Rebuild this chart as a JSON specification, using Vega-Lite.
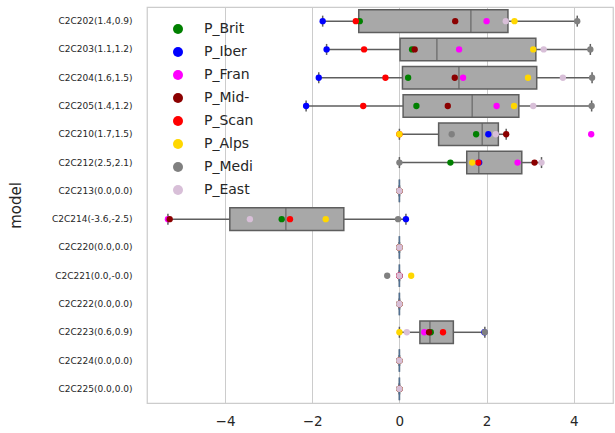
{
  "$schema": "https://vega.github.io/schema/vega-lite/v6.json",
  "width": 466,
  "height": 396,
  "autosize": "none",
  "padding": {"left": 147, "top": 7, "right": 2, "bottom": 30},
  "background": "white",
  "config": {
    "font": "DejaVu Sans",
    "view": {"stroke": "#cccccc", "strokeWidth": 1.25}
  },
  "data": {
    "values": [
      {"model": "C2C202(1.4,0.9)", "region": "P_Brit", "value": -0.91},
      {"model": "C2C202(1.4,0.9)", "region": "P_Iber", "value": -1.76},
      {"model": "C2C202(1.4,0.9)", "region": "P_Fran", "value": 2.0},
      {"model": "C2C202(1.4,0.9)", "region": "P_Mid-", "value": 1.28},
      {"model": "C2C202(1.4,0.9)", "region": "P_Scan", "value": -1.0},
      {"model": "C2C202(1.4,0.9)", "region": "P_Alps", "value": 2.64},
      {"model": "C2C202(1.4,0.9)", "region": "P_Medi", "value": 4.08},
      {"model": "C2C202(1.4,0.9)", "region": "P_East", "value": 2.44},
      {"model": "C2C203(1.1,1.2)", "region": "P_Brit", "value": 0.29},
      {"model": "C2C203(1.1,1.2)", "region": "P_Iber", "value": -1.67},
      {"model": "C2C203(1.1,1.2)", "region": "P_Fran", "value": 1.37},
      {"model": "C2C203(1.1,1.2)", "region": "P_Mid-", "value": 0.35},
      {"model": "C2C203(1.1,1.2)", "region": "P_Scan", "value": -0.81},
      {"model": "C2C203(1.1,1.2)", "region": "P_Alps", "value": 3.07},
      {"model": "C2C203(1.1,1.2)", "region": "P_Medi", "value": 4.38},
      {"model": "C2C203(1.1,1.2)", "region": "P_East", "value": 3.31},
      {"model": "C2C204(1.6,1.5)", "region": "P_Brit", "value": 0.2},
      {"model": "C2C204(1.6,1.5)", "region": "P_Iber", "value": -1.85},
      {"model": "C2C204(1.6,1.5)", "region": "P_Fran", "value": 1.46},
      {"model": "C2C204(1.6,1.5)", "region": "P_Mid-", "value": 1.27},
      {"model": "C2C204(1.6,1.5)", "region": "P_Scan", "value": -0.32},
      {"model": "C2C204(1.6,1.5)", "region": "P_Alps", "value": 2.95},
      {"model": "C2C204(1.6,1.5)", "region": "P_Medi", "value": 4.42},
      {"model": "C2C204(1.6,1.5)", "region": "P_East", "value": 3.75},
      {"model": "C2C205(1.4,1.2)", "region": "P_Brit", "value": 0.39},
      {"model": "C2C205(1.4,1.2)", "region": "P_Iber", "value": -2.14},
      {"model": "C2C205(1.4,1.2)", "region": "P_Fran", "value": 2.23},
      {"model": "C2C205(1.4,1.2)", "region": "P_Mid-", "value": 1.11},
      {"model": "C2C205(1.4,1.2)", "region": "P_Scan", "value": -0.83},
      {"model": "C2C205(1.4,1.2)", "region": "P_Alps", "value": 2.63},
      {"model": "C2C205(1.4,1.2)", "region": "P_Medi", "value": 4.41},
      {"model": "C2C205(1.4,1.2)", "region": "P_East", "value": 3.07},
      {"model": "C2C210(1.7,1.5)", "region": "P_Brit", "value": 1.76},
      {"model": "C2C210(1.7,1.5)", "region": "P_Iber", "value": 2.04},
      {"model": "C2C210(1.7,1.5)", "region": "P_Fran", "value": 4.4},
      {"model": "C2C210(1.7,1.5)", "region": "P_Mid-", "value": 2.45},
      {"model": "C2C210(1.7,1.5)", "region": "P_Scan", "value": 0.0},
      {"model": "C2C210(1.7,1.5)", "region": "P_Alps", "value": 0.0},
      {"model": "C2C210(1.7,1.5)", "region": "P_Medi", "value": 1.2},
      {"model": "C2C210(1.7,1.5)", "region": "P_East", "value": 2.21},
      {"model": "C2C212(2.5,2.1)", "region": "P_Brit", "value": 1.17},
      {"model": "C2C212(2.5,2.1)", "region": "P_Iber", "value": 1.83},
      {"model": "C2C212(2.5,2.1)", "region": "P_Fran", "value": 2.71},
      {"model": "C2C212(2.5,2.1)", "region": "P_Mid-", "value": 3.1},
      {"model": "C2C212(2.5,2.1)", "region": "P_Scan", "value": 1.81},
      {"model": "C2C212(2.5,2.1)", "region": "P_Alps", "value": 1.67},
      {"model": "C2C212(2.5,2.1)", "region": "P_Medi", "value": 0.0},
      {"model": "C2C212(2.5,2.1)", "region": "P_East", "value": 3.26},
      {"model": "C2C213(0.0,0.0)", "region": "P_Brit", "value": 0},
      {"model": "C2C213(0.0,0.0)", "region": "P_Iber", "value": 0},
      {"model": "C2C213(0.0,0.0)", "region": "P_Fran", "value": 0},
      {"model": "C2C213(0.0,0.0)", "region": "P_Mid-", "value": 0},
      {"model": "C2C213(0.0,0.0)", "region": "P_Scan", "value": 0},
      {"model": "C2C213(0.0,0.0)", "region": "P_Alps", "value": 0},
      {"model": "C2C213(0.0,0.0)", "region": "P_Medi", "value": 0},
      {"model": "C2C213(0.0,0.0)", "region": "P_East", "value": 0},
      {"model": "C2C214(-3.6,-2.5)", "region": "P_Brit", "value": -2.7},
      {"model": "C2C214(-3.6,-2.5)", "region": "P_Iber", "value": 0.15},
      {"model": "C2C214(-3.6,-2.5)", "region": "P_Fran", "value": -5.31},
      {"model": "C2C214(-3.6,-2.5)", "region": "P_Mid-", "value": -5.27},
      {"model": "C2C214(-3.6,-2.5)", "region": "P_Scan", "value": -2.51},
      {"model": "C2C214(-3.6,-2.5)", "region": "P_Alps", "value": -1.69},
      {"model": "C2C214(-3.6,-2.5)", "region": "P_Medi", "value": -0.03},
      {"model": "C2C214(-3.6,-2.5)", "region": "P_East", "value": -3.43},
      {"model": "C2C220(0.0,0.0)", "region": "P_Brit", "value": 0},
      {"model": "C2C220(0.0,0.0)", "region": "P_Iber", "value": 0},
      {"model": "C2C220(0.0,0.0)", "region": "P_Fran", "value": 0},
      {"model": "C2C220(0.0,0.0)", "region": "P_Mid-", "value": 0},
      {"model": "C2C220(0.0,0.0)", "region": "P_Scan", "value": 0},
      {"model": "C2C220(0.0,0.0)", "region": "P_Alps", "value": 0},
      {"model": "C2C220(0.0,0.0)", "region": "P_Medi", "value": 0},
      {"model": "C2C220(0.0,0.0)", "region": "P_East", "value": 0},
      {"model": "C2C221(0.0,-0.0)", "region": "P_Brit", "value": 0},
      {"model": "C2C221(0.0,-0.0)", "region": "P_Iber", "value": 0},
      {"model": "C2C221(0.0,-0.0)", "region": "P_Fran", "value": 0},
      {"model": "C2C221(0.0,-0.0)", "region": "P_Mid-", "value": 0},
      {"model": "C2C221(0.0,-0.0)", "region": "P_Scan", "value": 0},
      {"model": "C2C221(0.0,-0.0)", "region": "P_Alps", "value": 0.27},
      {"model": "C2C221(0.0,-0.0)", "region": "P_Medi", "value": -0.28},
      {"model": "C2C221(0.0,-0.0)", "region": "P_East", "value": 0},
      {"model": "C2C222(0.0,0.0)", "region": "P_Brit", "value": 0},
      {"model": "C2C222(0.0,0.0)", "region": "P_Iber", "value": 0},
      {"model": "C2C222(0.0,0.0)", "region": "P_Fran", "value": 0},
      {"model": "C2C222(0.0,0.0)", "region": "P_Mid-", "value": 0},
      {"model": "C2C222(0.0,0.0)", "region": "P_Scan", "value": 0},
      {"model": "C2C222(0.0,0.0)", "region": "P_Alps", "value": 0},
      {"model": "C2C222(0.0,0.0)", "region": "P_Medi", "value": 0},
      {"model": "C2C222(0.0,0.0)", "region": "P_East", "value": 0},
      {"model": "C2C223(0.6,0.9)", "region": "P_Brit", "value": 0.72},
      {"model": "C2C223(0.6,0.9)", "region": "P_Iber", "value": 1.95},
      {"model": "C2C223(0.6,0.9)", "region": "P_Fran", "value": 0.57},
      {"model": "C2C223(0.6,0.9)", "region": "P_Mid-", "value": 0.68},
      {"model": "C2C223(0.6,0.9)", "region": "P_Scan", "value": 1.0},
      {"model": "C2C223(0.6,0.9)", "region": "P_Alps", "value": 0.0},
      {"model": "C2C223(0.6,0.9)", "region": "P_Medi", "value": 1.96},
      {"model": "C2C223(0.6,0.9)", "region": "P_East", "value": 0.17},
      {"model": "C2C224(0.0,0.0)", "region": "P_Brit", "value": 0},
      {"model": "C2C224(0.0,0.0)", "region": "P_Iber", "value": 0},
      {"model": "C2C224(0.0,0.0)", "region": "P_Fran", "value": 0},
      {"model": "C2C224(0.0,0.0)", "region": "P_Mid-", "value": 0},
      {"model": "C2C224(0.0,0.0)", "region": "P_Scan", "value": 0},
      {"model": "C2C224(0.0,0.0)", "region": "P_Alps", "value": 0},
      {"model": "C2C224(0.0,0.0)", "region": "P_Medi", "value": 0},
      {"model": "C2C224(0.0,0.0)", "region": "P_East", "value": 0},
      {"model": "C2C225(0.0,0.0)", "region": "P_Brit", "value": 0},
      {"model": "C2C225(0.0,0.0)", "region": "P_Iber", "value": 0},
      {"model": "C2C225(0.0,0.0)", "region": "P_Fran", "value": 0},
      {"model": "C2C225(0.0,0.0)", "region": "P_Mid-", "value": 0},
      {"model": "C2C225(0.0,0.0)", "region": "P_Scan", "value": 0},
      {"model": "C2C225(0.0,0.0)", "region": "P_Alps", "value": 0},
      {"model": "C2C225(0.0,0.0)", "region": "P_Medi", "value": 0},
      {"model": "C2C225(0.0,0.0)", "region": "P_East", "value": 0}
    ]
  },
  "encoding": {
    "y": {
      "field": "model",
      "type": "nominal",
      "sort": null,
      "scale": {"type": "band", "paddingInner": 0, "paddingOuter": 0},
      "axis": {
        "title": "model",
        "labelFontSize": 9,
        "labelColor": "#262626",
        "ticks": false,
        "domain": false,
        "grid": false,
        "labelPadding": 15,
        "titleFontSize": 15,
        "titleFontWeight": "normal",
        "titleColor": "#262626",
        "titleX": -132,
        "titleY": 198,
        "titleAngle": -90,
        "titleAlign": "center",
        "titleBaseline": "middle"
      }
    },
    "x": {
      "field": "value",
      "type": "quantitative",
      "scale": {"domain": [-5.79, 4.9], "nice": false, "zero": false},
      "axis": {
        "title": null,
        "values": [-4, -2, 0, 2, 4],
        "labelFontSize": 13.5,
        "labelColor": "#262626",
        "ticks": false,
        "domain": false,
        "grid": true,
        "gridColor": "#cccccc",
        "gridWidth": 1,
        "labelPadding": 11
      }
    }
  },
  "layer": [
    {
      "mark": {
        "type": "boxplot",
        "extent": 1.5,
        "size": 22.6,
        "outliers": false,
        "color": "#a8a8a8",
        "box": {"stroke": "#5e5e5e", "strokeWidth": 1.5, "fill": "#a8a8a8"},
        "median": {"color": "#5e5e5e", "thickness": 1.5},
        "rule": {"color": "#5e5e5e", "strokeWidth": 1.5},
        "ticks": {"color": "#5e5e5e", "size": 11, "thickness": 1.5}
      }
    },
    {
      "mark": {"type": "circle", "size": 40, "opacity": 1},
      "encoding": {
        "color": {
          "field": "region",
          "type": "nominal",
          "scale": {
            "domain": ["P_Brit", "P_Iber", "P_Fran", "P_Mid-", "P_Scan", "P_Alps", "P_Medi", "P_East"],
            "range": ["#008000", "#0000ff", "#ff00ff", "#8b0000", "#ff0000", "#ffd700", "#808080", "#d8bfd8"]
          },
          "legend": {
            "title": null,
            "orient": "none",
            "legendX": 24,
            "legendY": 15,
            "symbolType": "circle",
            "symbolSize": 100,
            "symbolStrokeWidth": 0,
            "labelFontSize": 14,
            "labelColor": "#262626",
            "labelOffset": 19,
            "rowPadding": 9,
            "padding": 0
          }
        }
      }
    }
  ]
}
